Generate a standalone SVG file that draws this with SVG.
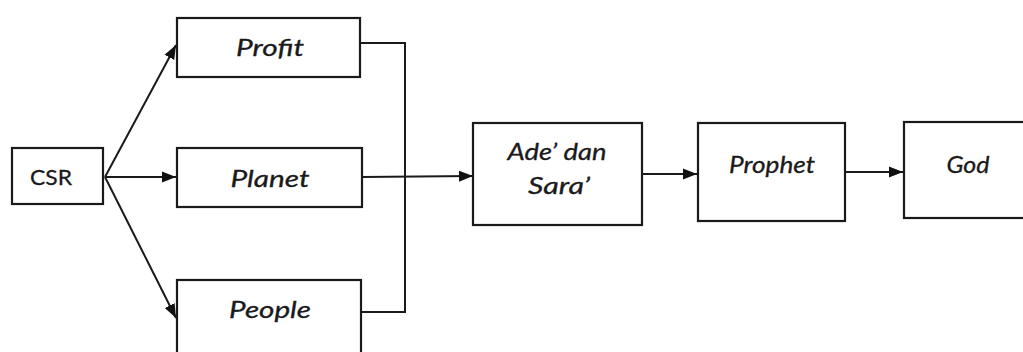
<svg xmlns="http://www.w3.org/2000/svg" width="1023" height="352" viewBox="0 0 1023 352">
<style>
.box{fill:#fff;stroke:#1a1a1a;stroke-width:2.2}
.t{font-family:Lato,"Open Sans","Liberation Sans",sans-serif;font-size:23px;font-style:italic;fill:#1a1a1a;text-anchor:middle;stroke:#1a1a1a;stroke-width:0.3}
.n{font-family:Lato,"Open Sans","Liberation Sans",sans-serif;font-size:22px;fill:#1a1a1a;text-anchor:middle;stroke:#1a1a1a;stroke-width:0.3}
.c{fill:none;stroke:#1a1a1a;stroke-width:2}
</style>
<defs>
<marker id="ah" markerUnits="userSpaceOnUse" markerWidth="16" markerHeight="12" refX="14" refY="6" orient="auto">
<path d="M0,0.5 L14,6 L0,11.5 Z" fill="#111"/>
</marker>
</defs>
<rect width="1023" height="352" fill="#fff"/>
<g id="connectors">
<path class="c" d="M105,177 L176,45" marker-end="url(#ah)"/>
<path class="c" d="M105,177 L176,177" marker-end="url(#ah)"/>
<path class="c" d="M105,177 L176,318" marker-end="url(#ah)"/>
<path class="c" d="M361,43 L405,43 L405,312 L361,312"/>
<path class="c" d="M362,177 L473,176" marker-end="url(#ah)"/>
<path class="c" d="M642,174 L697,174" marker-end="url(#ah)"/>
<path class="c" d="M845,172 L903,172" marker-end="url(#ah)"/>
</g>
<g id="csr"><rect class="box" x="12" y="148" width="91" height="56"/><text class="n" x="51" y="185" textLength="42" lengthAdjust="spacingAndGlyphs">CSR</text></g>
<g id="profit"><rect class="box" x="177" y="18" width="183" height="59"/><text class="t" x="270" y="56" textLength="68" lengthAdjust="spacingAndGlyphs">Profit</text></g>
<g id="planet"><rect class="box" x="177" y="148" width="185" height="59"/><text class="t" x="270" y="187" textLength="79" lengthAdjust="spacingAndGlyphs">Planet</text></g>
<g id="people"><rect class="box" x="177" y="280" width="184" height="80"/><text class="t" x="270" y="318" textLength="82" lengthAdjust="spacingAndGlyphs">People</text></g>
<g id="ade"><rect class="box" x="473" y="123" width="169" height="102"/><text class="t" x="557" y="160" textLength="99" lengthAdjust="spacingAndGlyphs">Ade’ dan</text><text class="t" x="559" y="194" textLength="62" lengthAdjust="spacingAndGlyphs">Sara’</text></g>
<g id="prophet"><rect class="box" x="698" y="123" width="147" height="98"/><text class="t" x="772" y="173" textLength="86" lengthAdjust="spacingAndGlyphs">Prophet</text></g>
<g id="god"><rect class="box" x="904" y="122" width="130" height="96"/><text class="t" x="968" y="173" textLength="43" lengthAdjust="spacingAndGlyphs">God</text></g>
</svg>
